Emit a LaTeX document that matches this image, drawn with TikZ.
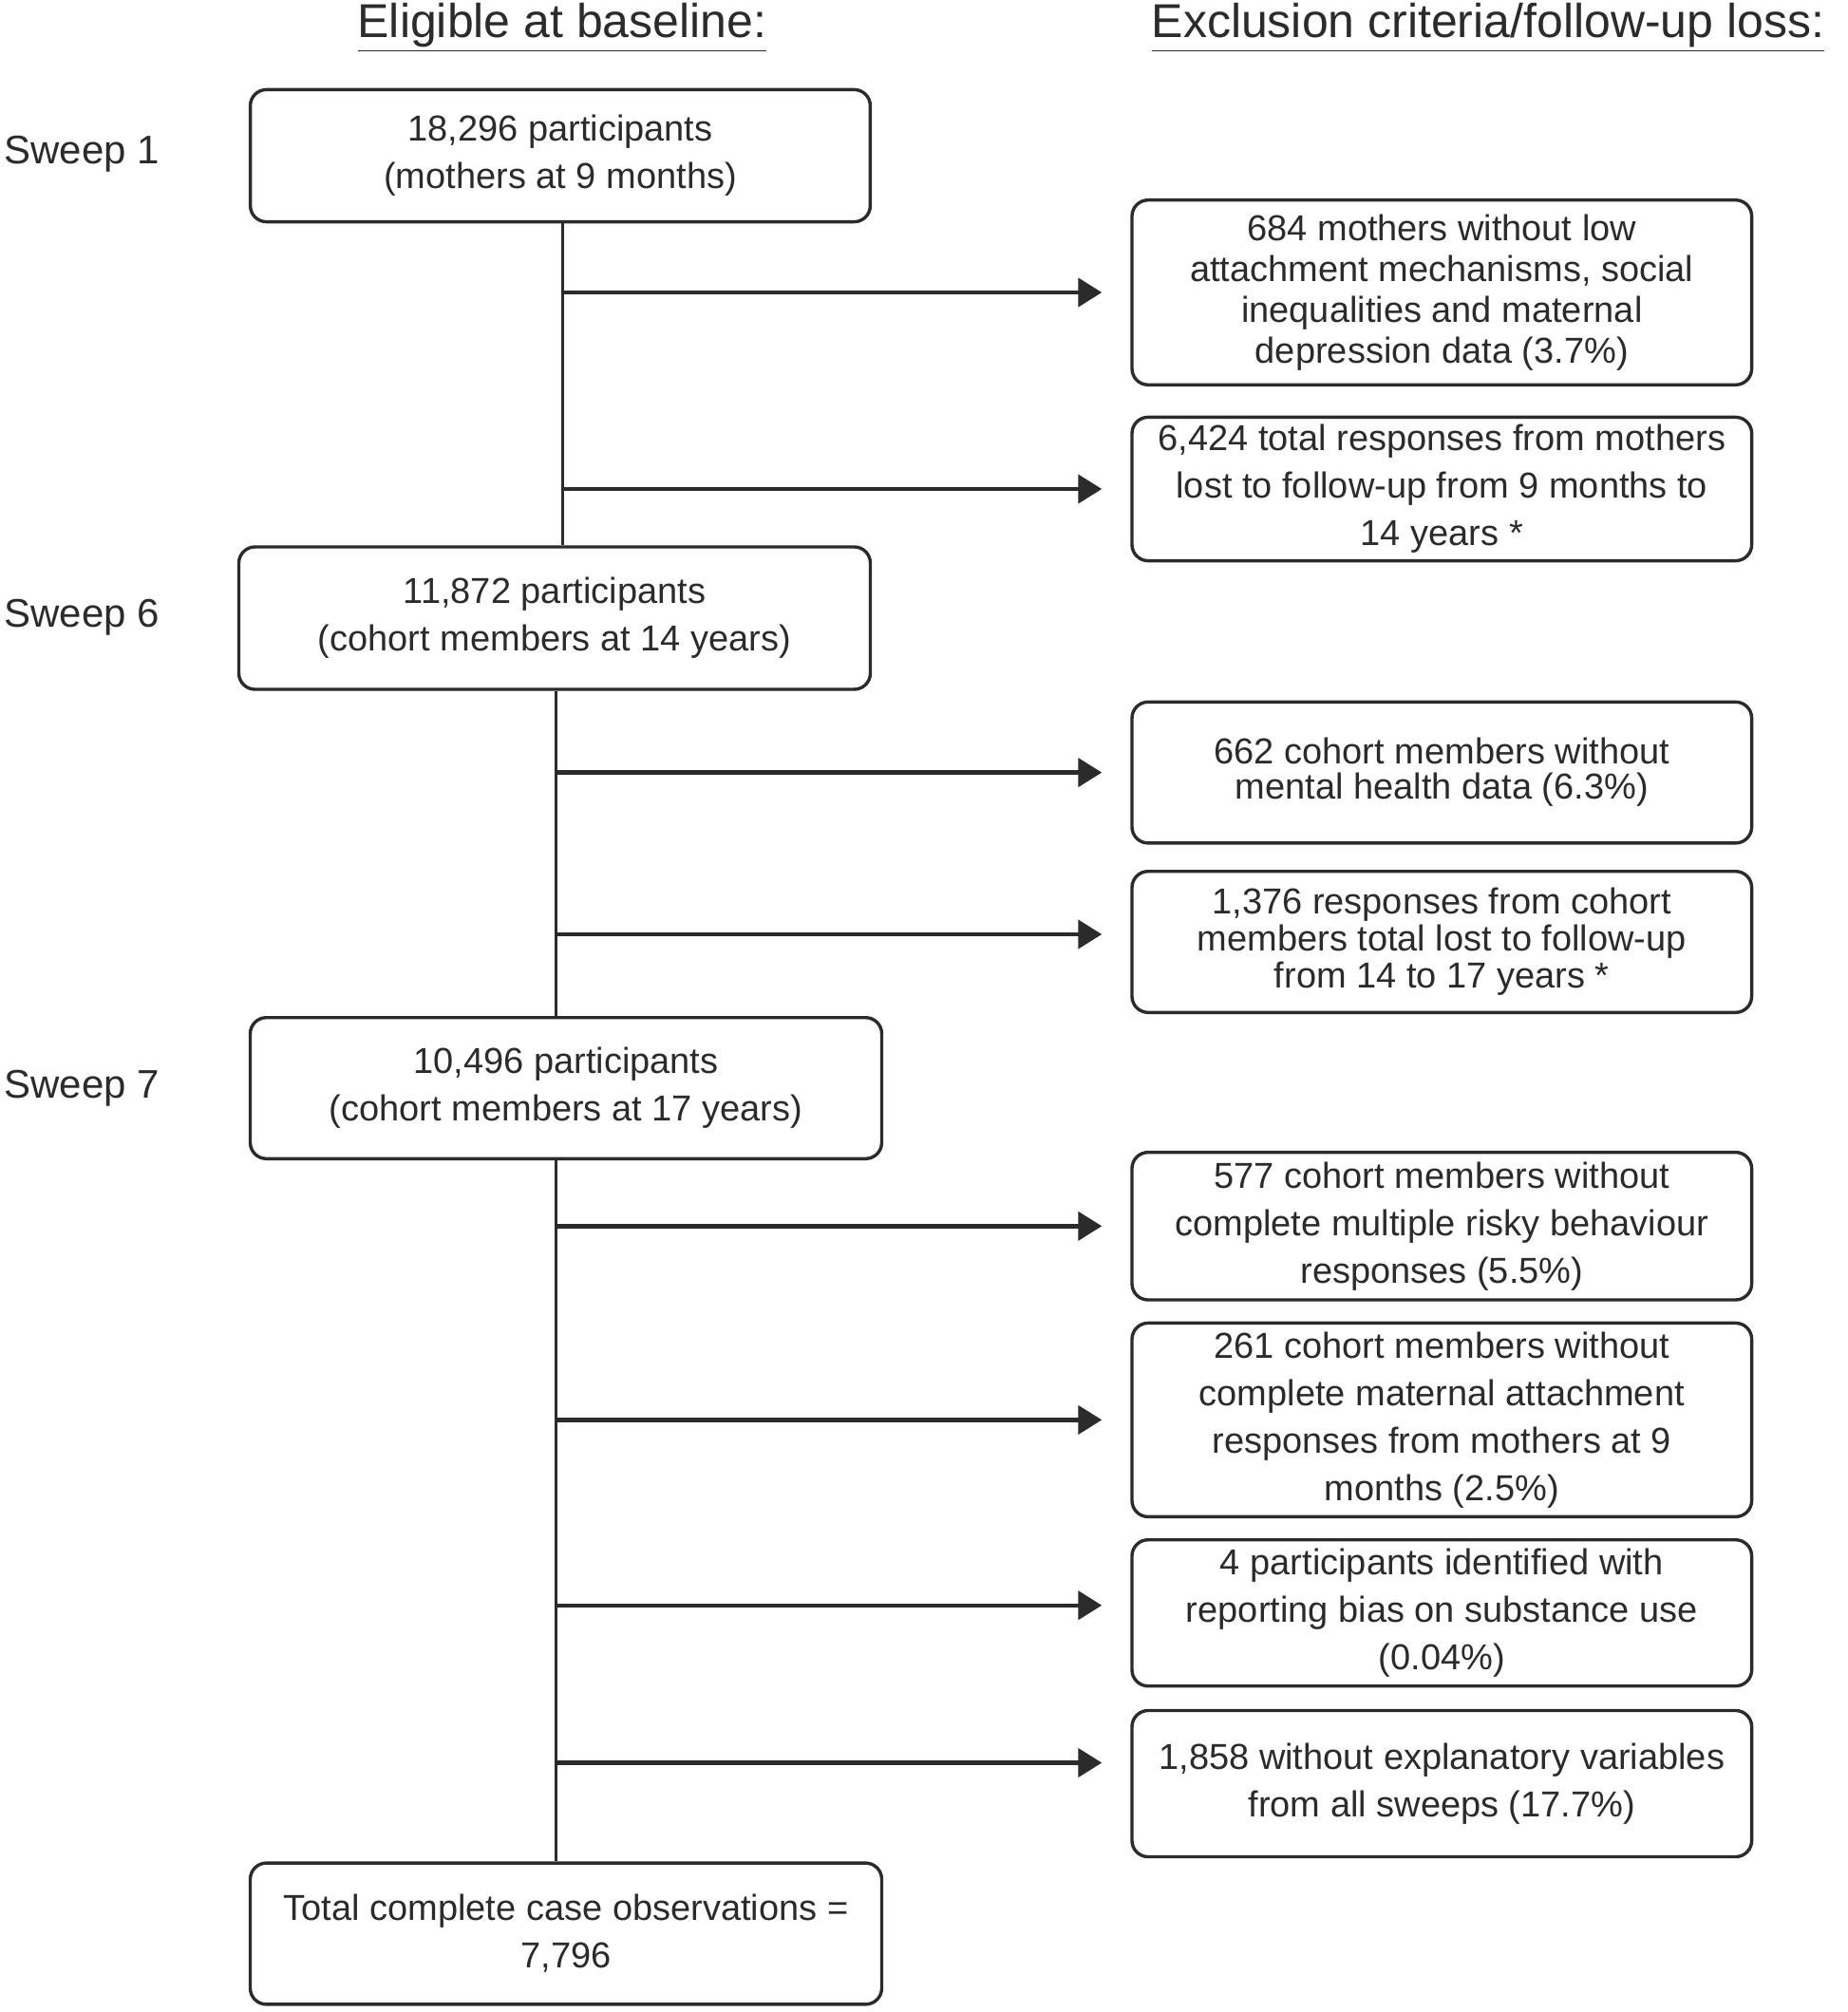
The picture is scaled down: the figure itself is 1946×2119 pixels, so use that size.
\documentclass[tikz,border=0pt]{standalone}
\usepackage{fontspec}
\setmainfont{Liberation Sans}
\usetikzlibrary{arrows.meta}
\definecolor{ink}{HTML}{2B2B2B}
\begin{document}
\begin{tikzpicture}[x=0.5pt,y=-0.5pt,
  box/.style={draw=ink, line width=1.7pt, rounded corners=8.5pt, align=center, text=ink,
    font=\fontsize{19}{25}\selectfont, inner sep=0pt},
  lbox/.style={box, minimum width=332.5pt, minimum height=74.3pt},
  rbox/.style={box, minimum width=326.3pt},
  spine/.style={draw=ink, line width=1.5pt},
  arr/.style={draw=ink, line width=2.2pt, -{Triangle[length=12.5pt,width=15pt]}, shorten >=15pt},
  sweep/.style={anchor=west, text=ink, font=\fontsize{21}{25}\selectfont, inner sep=0pt},
  head/.style={anchor=base, text=ink, font=\fontsize{25}{30}\selectfont, inner sep=0pt}
]
\fill[white] (0,0) rectangle (1946,2119);
\useasboundingbox (0,0) rectangle (1946,2119);

% headers
\node[head] (h1) at (592,40) {\underline{Eligible at baseline:}};
\node[head] (h2) at (1567,40) {\underline{Exclusion criteria/follow-up loss:}};

% sweep labels
\node[sweep] (s1) at (4,162) {Sweep 1};
\node[sweep] (s6) at (4,650) {Sweep 6};
\node[sweep] (s7) at (4,1146) {Sweep 7};

% left boxes
\node[lbox, minimum width=326.4pt, minimum height=69.6pt] (B1) at (590,164) {18,296 participants\\(mothers at 9 months)};
\node[lbox, minimum height=75pt] (B2) at (584,651) {11,872 participants\\(cohort members at 14 years)};
\node[lbox] (B3) at (596,1146) {10,496 participants\\(cohort members at 17 years)};
\node[lbox, minimum height=74.4pt] (B4) at (596,2036.5) {Total complete case observations =\\7,796};

% right boxes
\node[rbox, minimum height=97.3pt, font=\fontsize{19}{21.6}\selectfont] (R1) at (1518.3,308) {684 mothers without low\\attachment mechanisms, social\\inequalities and maternal\\depression data (3.7\%)};
\node[rbox, minimum height=75.6pt] (R2) at (1518.3,515) {6,424 total responses from mothers\\lost to follow-up from 9 months to\\14 years *};
\node[rbox, minimum height=74.3pt, font=\fontsize{19}{18.5}\selectfont] (R3) at (1518.3,813.6) {662 cohort members without\\mental health data (6.3\%)};
\node[rbox, minimum height=74.3pt, font=\fontsize{19}{19.5}\selectfont] (R4) at (1518.3,992) {1,376 responses from cohort\\members total lost to follow-up\\from 14 to 17 years *};
\node[rbox, minimum height=77.7pt] (R5) at (1518.3,1291.3) {577 cohort members without\\complete multiple risky behaviour\\responses (5.5\%)};
\node[rbox, minimum height=102pt] (R6) at (1518.3,1495.4) {261 cohort members without\\complete maternal attachment\\responses from mothers at 9\\months (2.5\%)};
\node[rbox, minimum height=77pt] (R7) at (1518.3,1698.7) {4 participants identified with\\reporting bias on substance use\\(0.04\%)};
\node[rbox, minimum height=77pt] (R8) at (1518.3,1878.5) {1,858 without explanatory variables\\from all sweeps (17.7\%)};

% spines
\coordinate (p1) at (592,0);
\coordinate (p2) at (585,0);
\coordinate (p3) at (585,0);
\draw[spine] (B1.south -| p1) -- (B2.north -| p1);
\draw[spine] (B2.south -| p2) -- (B3.north -| p2);
\draw[spine] (B3.south -| p3) -- (B4.north -| p3);

% arrows
\coordinate (t4) at ([yshift=4pt]R4.west);
\coordinate (t7) at ([yshift=4pt]R7.west);
\coordinate (t8) at ([yshift=11pt]R8.west);
\draw[arr] (p1 |- R1.west) -- (R1.west);
\draw[arr] (p1 |- R2.west) -- (R2.west);
\draw[arr] (p2 |- R3.west) -- (R3.west);
\draw[arr] (p2 |- t4) -- (t4);
\draw[arr] (p3 |- R5.west) -- (R5.west);
\draw[arr] (p3 |- R6.west) -- (R6.west);
\draw[arr] (p3 |- t7) -- (t7);
\draw[arr] (p3 |- t8) -- (t8);
\end{tikzpicture}
\end{document}
